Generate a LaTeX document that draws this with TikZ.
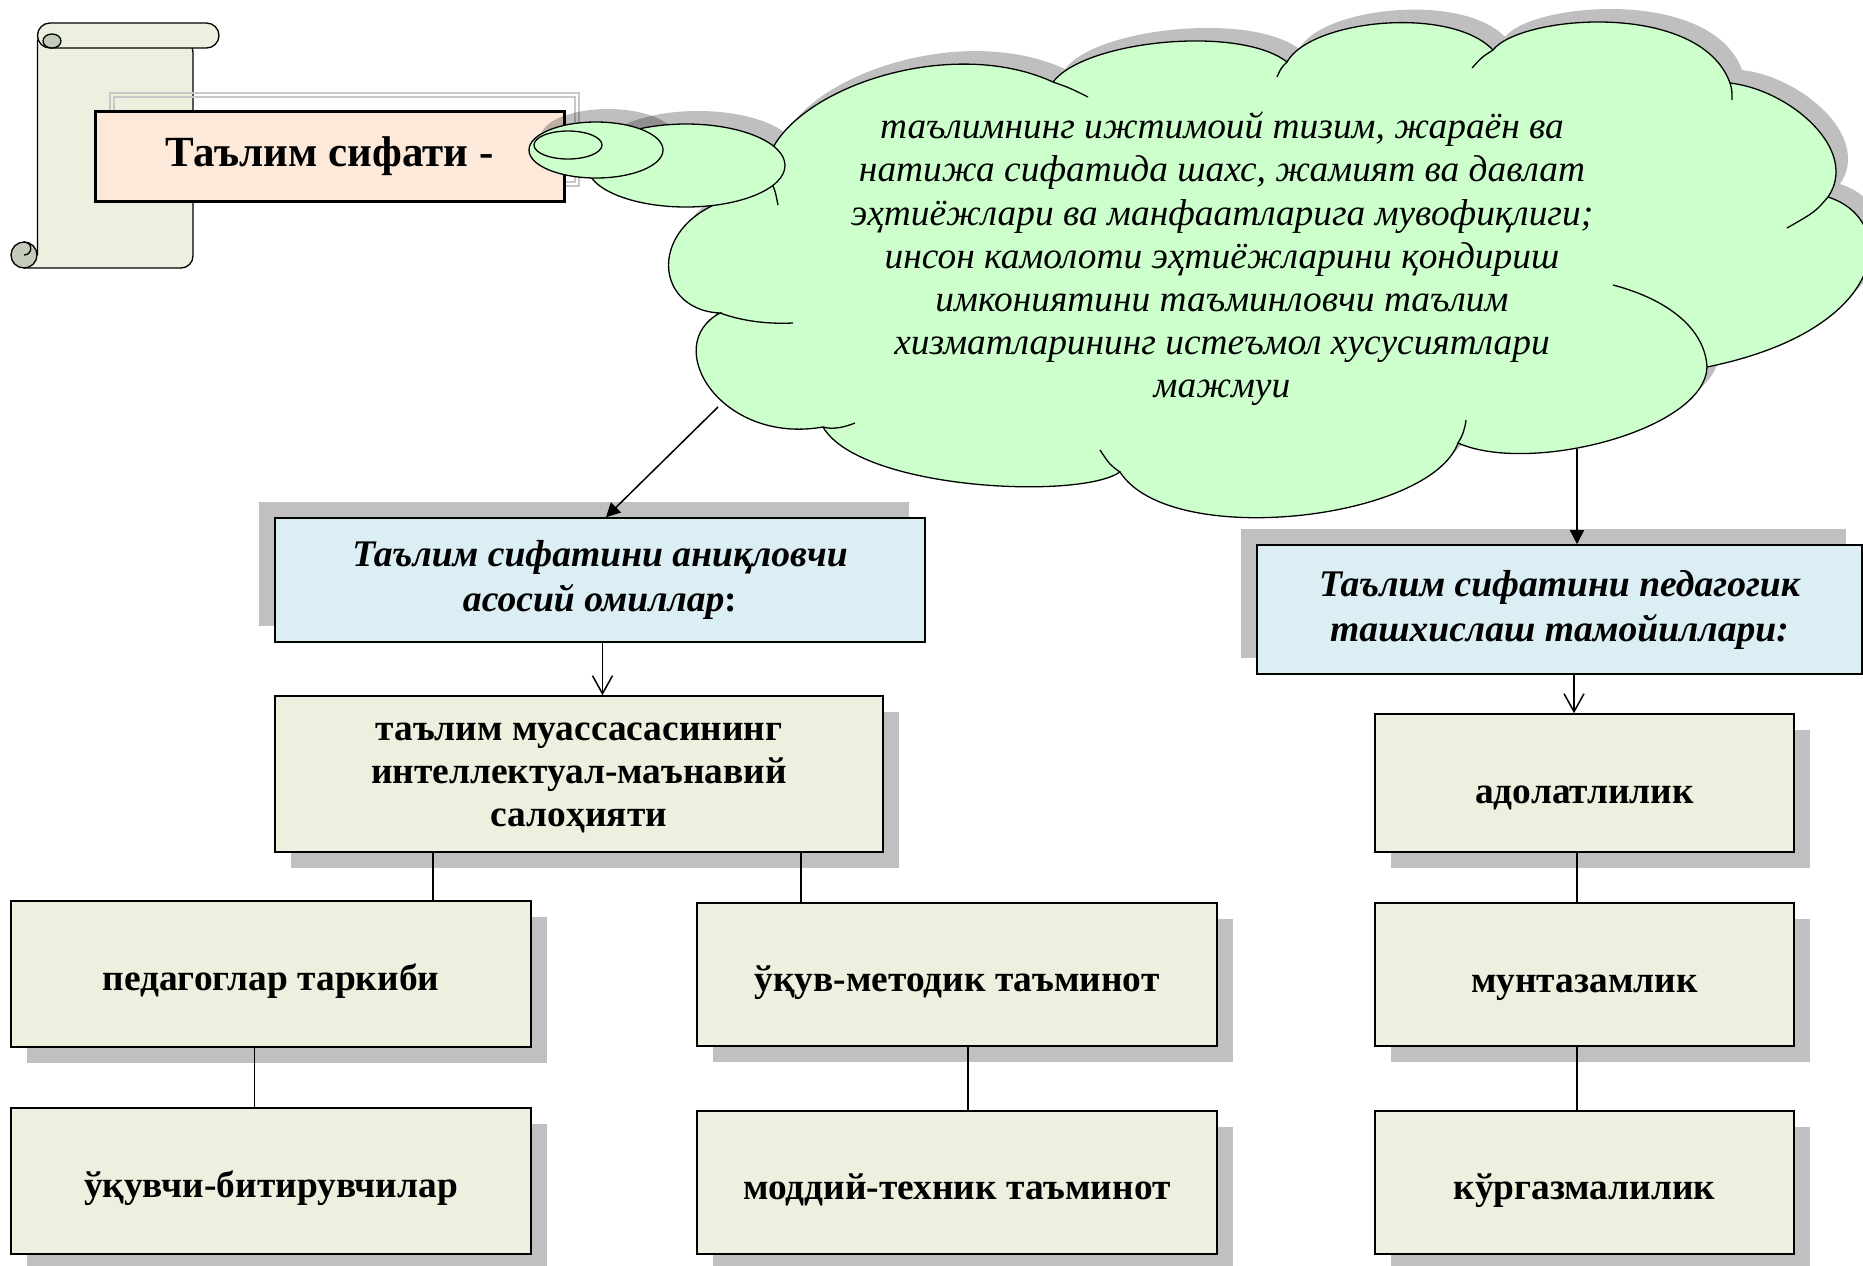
\documentclass[tikz,border=0pt]{standalone}
\usepackage{fontspec}
\setmainfont{Liberation Serif}
\usetikzlibrary{arrows.meta,shadows}
\definecolor{scrollfill}{HTML}{EBF1DE}
\definecolor{curlfill}{HTML}{C5CBBA}
\definecolor{titlefill}{HTML}{FDE9D9}
\definecolor{cloudfill}{HTML}{CCFFCC}
\definecolor{bluefill}{HTML}{DAEEF3}
\definecolor{greenfill}{HTML}{EBF1DE}
\definecolor{shadowgrey}{HTML}{C0C0C0}
\definecolor{framegrey}{HTML}{C8C8C8}
\def\cloudpath{(765,180) .. controls (760,100) and (940,30) .. (1053,82)
 .. controls (1085,40) and (1240,25) .. (1287,62)
 .. controls (1310,20) and (1450,5) .. (1493,50)
 .. controls (1520,15) and (1700,0) .. (1730,83)
 .. controls (1790,90) and (1860,150) .. (1828,197)
 .. controls (1900,220) and (1890,330) .. (1707,367)
 .. controls (1705,430) and (1530,475) .. (1458,443)
 .. controls (1430,520) and (1170,550) .. (1120,472)
 .. controls (1080,500) and (860,490) .. (823,427)
 .. controls (720,445) and (660,345) .. (720,313)
 .. controls (650,310) and (645,215) .. (745,195)
 -- cycle}
\begin{document}
\begin{tikzpicture}[x=0.5pt,y=-0.5pt,
  outl/.style={line width=0.65pt},
  boxbase/.style={draw=black, line width=0.8pt, inner sep=0pt, align=center,
    font=\fontsize{18.7}{21.5}\selectfont\bfseries},
  oneline/.style={text height=16.5pt, text depth=0pt},
  greenbox/.style={boxbase, fill=greenfill,
    general shadow={fill=shadowgrey, shadow xshift=8pt, shadow yshift=-8pt}},
  bluebox/.style={boxbase, fill=bluefill,
    font=\fontsize{18.8}{22.5}\selectfont\bfseries\itshape,
    general shadow={fill=shadowgrey, shadow xshift=-8pt, shadow yshift=8pt}},
  conn/.style={line width=0.75pt},
  solidtip/.style={conn, -{Triangle[length=7pt,width=7pt]}},
  opentip/.style={conn, -{Straight Barb[length=9pt,width=10pt]}},
  bubble/.style={outl, fill=cloudfill},
  bshadow/.style={fill=black, opacity=0.25}
]
\useasboundingbox (0,0) rectangle (1863,1265);
\clip (0,0) rectangle (1863,1265);

% scroll
\draw[outl, fill=scrollfill] (24,268) [rounded corners=6pt] -- (193,268) -- (193,40) [sharp corners] -- (37.5,40) -- (37.5,255);
\draw[outl, fill=scrollfill, rounded corners=6.25pt] (37.5,23) rectangle (219,48);
\draw[outl, fill=curlfill] (52,41) ellipse[x radius=4.5pt, y radius=3.5pt];
\draw[outl, fill=curlfill] (24,255) circle[radius=6.5pt];
\draw[outl] (24,242) .. controls (33,242) and (33,255) .. (24,255);

% grey frame
\draw[framegrey, line width=0.6pt] (110,93) rectangle (579,186);
\draw[framegrey, line width=0.6pt] (114,97) rectangle (575,182);

% title
\node[draw=black, line width=1.5pt, fill=titlefill, minimum width=234.5pt,
  minimum height=45pt, inner sep=0pt,
  font=\fontsize{21.5}{26}\selectfont\bfseries] (title) at (329.5,156) {Таълим сифати -};

% shadows of cloud and bubbles
\fill[bshadow, shift={(12,-13)}] \cloudpath;
\fill[bshadow] (698,152.5) ellipse[x radius=49.5pt, y radius=20.75pt];
\fill[bshadow] (608,137) ellipse[x radius=33.5pt, y radius=14pt];

% cloud
\draw[bubble] \cloudpath;
\draw[outl] (771,182) .. controls (775,190) .. (778,205);
\draw[outl] (720,313) .. controls (745,322) and (770,324) .. (793,323);
\draw[outl] (823,427) .. controls (833,430) and (845,427) .. (855,423);
\draw[outl] (1458,443) .. controls (1463,435) and (1465,428) .. (1466,420);
\draw[outl] (1120,472) .. controls (1110,465) .. (1100,450);
\draw[outl] (1707,367) .. controls (1705,330) and (1670,300) .. (1613,285);
\draw[outl] (1828,197) .. controls (1815,212) .. (1787,228);
\draw[outl] (1730,83) .. controls (1732,90) .. (1732,100);
\draw[outl] (1287,62) .. controls (1281,68) .. (1277,77);
\draw[outl] (1493,50) .. controls (1482,57) .. (1472,68);
\draw[outl] (1053,82) .. controls (1070,88) .. (1088,97);

% bubbles
\draw[bubble] (686,165.5) ellipse[x radius=49.5pt, y radius=20.75pt];
\draw[bubble] (596,150) ellipse[x radius=33.5pt, y radius=14pt];
\draw[outl] (568,145) ellipse[x radius=17pt, y radius=7pt];

\node[align=center, inner sep=0pt, font=\fontsize{18.7}{21.6}\selectfont\itshape] (cloudtext) at (1222,259)
 {таълимнинг ижтимоий тизим, жараён ва\\
  натижа сифатида шахс, жамият ва давлат\\
  эҳтиёжлари ва манфаатларига мувофиқлиги;\\
  инсон камолоти эҳтиёжларини қондириш\\
  имкониятини таъминловчи таълим\\
  хизматларининг истеъмол хусусиятлари\\
  мажмуи};

\coordinate (cl1) at (718,407);
\coordinate (cl2) at (1577,449);

% boxes
\node[bluebox, minimum width=325pt, minimum height=62pt] (A) at (600,580)
  {Таълим сифатини аниқловчи\\асосий омиллар{\upshape :}};
\node[greenbox, minimum width=304pt, minimum height=78pt, text height=52pt, text depth=0pt] (B) at (579,774)
  {таълим муассасасининг\\интеллектуал-маънавий\\салоҳияти};
\node[greenbox, oneline, minimum width=260pt, minimum height=73pt] (C) at (271,974) {педагоглар таркиби};
\node[greenbox, oneline, minimum width=260pt, minimum height=73pt] (E) at (271,1181) {ўқувчи-битирувчилар};
\node[greenbox, oneline, minimum width=260pt, minimum height=71.5pt] (D) at (957,974.5) {ўқув-методик таъминот};
\node[greenbox, oneline, minimum width=260pt, minimum height=71.5pt] (F) at (957,1182.5) {моддий-техник таъминот};
\node[bluebox, minimum width=302.5pt, minimum height=64.5pt] (G) at (1559.5,609.5)
  {Таълим сифатини педагогик\\ташхислаш тамойиллари:};
\node[greenbox, minimum width=209.5pt, minimum height=69pt, text height=20pt, text depth=0pt] (H) at (1584.5,783) {адолатлилик};
\node[greenbox, minimum width=209.5pt, minimum height=71.5pt, text height=17.5pt, text depth=0pt] (I) at (1584.5,974.5) {мунтазамлик};
\node[greenbox, oneline, minimum width=209.5pt, minimum height=71.5pt] (J) at (1584.5,1182.5) {кўргазмалилик};

% connectors
\draw[solidtip] (cl1) -- ([xshift=3pt]A.north);
\draw[solidtip] (cl2) -- (G.north -| cl2);
\draw[opentip] ([xshift=1.25pt]A.south) -- ([xshift=1.25pt]A.south |- B.north);
\draw[opentip] ([xshift=7.25pt]G.south) -- ([xshift=7.25pt]G.south |- H.north);
\draw[conn] ([xshift=-73pt]B.south) -- ([xshift=-73pt]B.south |- C.north);
\draw[conn] ([xshift=111pt]B.south) -- ([xshift=111pt]B.south |- D.north);
\draw[conn] ([xshift=-8.25pt]C.south) -- ([xshift=-8.25pt]C.south |- E.north);
\draw[conn] ([xshift=5.5pt]D.south) -- ([xshift=5.5pt]D.south |- F.north);
\draw[conn] ([xshift=-3.75pt]H.south) -- ([xshift=-3.75pt]H.south |- I.north);
\draw[conn] ([xshift=-3.75pt]I.south) -- ([xshift=-3.75pt]I.south |- J.north);
\end{tikzpicture}
\end{document}
